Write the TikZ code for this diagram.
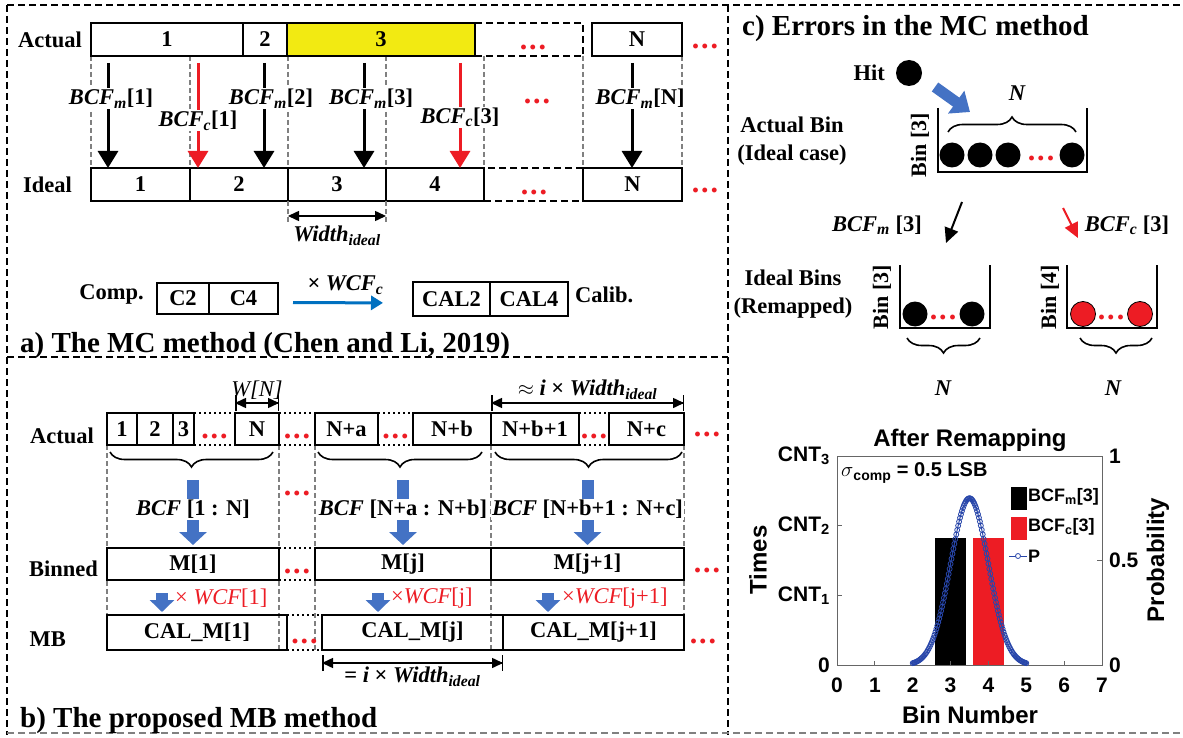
\documentclass[tikz,border=0pt]{standalone}
\usepackage{fontspec}
\setmainfont{Liberation Serif}
\setsansfont{Liberation Sans}
\usepackage{xcolor}
\usepackage{tikz}
\usetikzlibrary{arrows.meta, positioning, calc, decorations.pathreplacing, plotmarks}

\definecolor{binyellow}{RGB}{242,234,18}
\definecolor{dotred}{RGB}{237,28,36}
\definecolor{flowblue}{RGB}{0,112,192}
\definecolor{blockblue}{RGB}{68,114,196}
\definecolor{curveblue}{RGB}{40,70,170}
\definecolor{gridgray}{RGB}{128,128,128}

\newcommand{\rdots}{\textcolor{dotred}{\fontsize{30}{30}\selectfont.\kern2pt.\kern2pt.}}
\newcommand{\bcfsub}[1]{{\itshape BCF}\textsubscript{\itshape #1}}
\newcommand{\wideal}{{\itshape Width}\textsubscript{\itshape ideal}}

\begin{document}
\begin{tikzpicture}[
    x=1pt, y=-1pt,
    font=\fontsize{22.5}{26}\selectfont\bfseries,
    inner sep=1pt,
    cell/.style={draw, line width=1.6pt, inner sep=0pt, outer sep=0pt, anchor=north west, minimum height=33pt},
    gapbox/.style={cell, dash pattern=on 7pt off 4pt},
    grid/.style={draw=gridgray, line width=1.3pt, dash pattern=on 5pt off 3pt},
    frame/.style={line width=1.6pt, dash pattern=on 7pt off 4pt},
    dotline/.style={line width=1.6pt, dash pattern=on 2pt off 3pt},
    lbl/.style={fill=white, inner sep=1pt},
    title/.style={anchor=base west, font=\fontsize{29}{32}\selectfont\bfseries},
    bcfarrow/.style={line width=3pt, -{Triangle[width=20pt, length=17pt]}},
    dim/.style={line width=1.5pt, {Triangle[width=10pt, length=11pt]}-{Triangle[width=10pt, length=11pt]}},
    bars/.style={line width=1.5pt, {Bar[width=16pt]}-{Bar[width=16pt]}},
    flow/.style={draw=flowblue, line width=3pt, -{Triangle[width=14pt, length=12pt]}},
    bigblue/.style={draw=blockblue, line width=12pt, -{Triangle[width=27pt, length=13pt]}},
    smallblue/.style={draw=blockblue, line width=12pt, -{Triangle[width=24pt, length=12pt]}},
    fatblue/.style={draw=blockblue, line width=11pt, -{Triangle[width=27pt, length=17pt]}},
    mapline/.style={line width=2pt, -{Triangle[width=14pt, length=15pt]}},
    bracedown/.style={decorate, decoration={brace, mirror, amplitude=15pt}, line width=1.6pt},
    braceup/.style={decorate, decoration={brace, amplitude=15pt}, line width=1.6pt},
    binline/.style={line width=2pt},
    ball/.style={circle, fill=black, inner sep=0pt, outer sep=0pt, minimum size=25pt},
    binlbl/.style={rotate=90, font=\fontsize{22}{26}\selectfont\bfseries},
    plotfont/.style={font=\fontsize{21}{24}\selectfont\sffamily\bfseries}
]
\path[use as bounding box, fill=white] (0,0) rectangle (1183,738);

% Frames
\draw[frame] (7,5) -- (1183,5);
\draw[frame] (7,5) -- (7,735);
\draw[frame] (728,5) -- (728,735);
\draw[frame] (7,357) -- (728,357);
\draw[frame, draw=gridgray] (7,733) -- (1183,733);

% a) MC method
\foreach \x in {91,190,288,386,484,583,682}
  \draw[grid] (\x,56) -- (\x,168);
\node[cell, minimum width=152pt] (act1) at (91,23) {1};
\node[cell, minimum width=44pt] (act2) at (243,23) {2};
\node[cell, minimum width=188pt, fill=binyellow] (act3) at (287,23) {3};
\node[gapbox, minimum width=108pt] (actgap) at (475,23) {};
\node[cell, minimum width=90pt] (actN) at (592,23) {N};
\node (actgapdots) at (533,47) {\rdots};
\node (actmore) at (705,46) {\rdots};
\node[left=8pt of act1] (actlbl) {Actual};

\node[cell, minimum width=99pt] (id1) at (91,168) {1};
\node[cell, minimum width=98pt] (id2) at (190,168) {2};
\node[cell, minimum width=98pt] (id3) at (288,168) {3};
\node[cell, minimum width=98pt] (id4) at (386,168) {4};
\node[gapbox, minimum width=99pt] (idgap) at (484,168) {};
\node[cell, minimum width=99pt] (idN) at (583,168) {N};
\node (idgapdots) at (534,192) {\rdots};
\node (idmore) at (705,190) {\rdots};
\node[left=18pt of id1] (idlbl) {Ideal};

\coordinate (m1) at (108,63);
\coordinate (c1) at (198,63);
\coordinate (m2) at (264,63);
\coordinate (m3) at (364,63);
\coordinate (c3) at (460,63);
\coordinate (mN) at (632,63);
\draw[bcfarrow] (m1) -- node[lbl, pos=0.34, xshift=3pt] {\bcfsub{m}[1]} (m1 |- id1.north);
\draw[bcfarrow, draw=dotred] (c1) -- node[lbl, pos=0.55] {\bcfsub{c}[1]} (c1 |- id2.north);
\draw[bcfarrow] (m2) -- node[lbl, pos=0.34, xshift=7pt] {\bcfsub{m}[2]} (m2 |- id2.north);
\draw[bcfarrow] (m3) -- node[lbl, pos=0.34, xshift=7pt] {\bcfsub{m}[3]} (m3 |- id3.north);
\draw[bcfarrow, draw=dotred] (c3) -- node[lbl, pos=0.52] {\bcfsub{c}[3]} (c3 |- id4.north);
\draw[bcfarrow] (mN) -- node[lbl, pos=0.34, xshift=8pt] {\bcfsub{m}[N]} (mN |- idN.north);
\node (middots) at (537,101) {\rdots};

\draw[grid] (id3.south west) -- ++(0,21);
\draw[grid] (id3.south east) -- ++(0,21);
\draw[dim] ([yshift=-15pt]id3.south west) -- ([yshift=-15pt]id3.south east)
  node[midway, below=8pt] (wlbl) {\wideal};

\node[cell, minimum width=52pt, minimum height=31pt] (c2) at (157,283) {C2};
\node[cell, minimum width=69pt, minimum height=31pt] (c4) at (209,283) {C4};
\node[left=12pt of c2, yshift=4pt] (complbl) {Comp.};
\node[cell, minimum width=77pt, minimum height=34pt] (cal2) at (413,282) {CAL2};
\node[cell, minimum width=78pt, minimum height=34pt] (cal4) at (490,282) {CAL4};
\node[right=6pt of cal4, yshift=4pt] (caliblbl) {Calib.};
\draw[flow, shorten <=15pt, shorten >=30pt] ([yshift=-4pt]c4.east) --
  node[above=6pt] (wcflbl) {× {\itshape WCF}\textsubscript{\itshape c}} ([yshift=-4pt]cal2.west);

\node[title] (titlea) at (19,352) {a) The MC method (Chen and Li, 2019)};

% b) MB method
\foreach \x in {279,315,491,684}
  \draw[grid] (\x,445) -- (\x,650);
\draw[grid] (107,445) -- (107,615);

\node[cell, minimum width=30pt, minimum height=32pt] (b1) at (107,413) {1};
\node[cell, minimum width=36pt, minimum height=32pt] (b2) at (137,413) {2};
\node[cell, minimum width=21pt, minimum height=32pt] (b3) at (173,413) {3};
\node[cell, minimum width=44pt, minimum height=32pt] (bN) at (235,413) {N};
\node[cell, minimum width=63pt, minimum height=32pt] (bNa) at (315,413) {N+a};
\node[cell, minimum width=78pt, minimum height=32pt] (bNb) at (413,413) {N+b};
\node[cell, minimum width=88pt, minimum height=32pt] (bNb1) at (491,413) {N+b+1};
\node[cell, minimum width=75pt, minimum height=32pt] (bNc) at (609,413) {N+c};
\node (bmore) at (707,434) {\rdots};
\node[left=12pt of b1, yshift=-7pt] (bactlbl) {Actual};

\node[cell, minimum width=172pt, minimum height=32pt] (mb1) at (107,548) {M[1]};
\node[cell, minimum width=176pt, minimum height=32pt] (mbj) at (315,548) {M[j]};
\node[cell, minimum width=193pt, minimum height=32pt] (mbj1) at (491,548) {M[j+1]};
\node (mbmore) at (707,570) {\rdots};
\node[left=8pt of mb1, yshift=-5pt] (binlbl) {Binned};

\node[cell, minimum width=180pt, minimum height=35pt] (cal1) at (107,615) {CAL\_M[1]};
\node[cell, minimum width=181pt, minimum height=35pt] (calj) at (322,615) {CAL\_M[j]};
\node[cell, minimum width=181pt, minimum height=35pt] (calj1) at (503,615) {CAL\_M[j+1]};
\node (calmore) at (703,641) {\rdots};
\node[left=40pt of cal1, yshift=-7pt] (mblbl) {MB};

\foreach \l/\r in {b3/bN, bN/bNa, bNa/bNb, bNb1/bNc, mb1/mbj, cal1/calj} {
  \draw[dotline] (\l.north east) -- (\r.north west);
  \draw[dotline] (\l.south east) -- (\r.south west);
  \node[above=5pt] at ($(\l.south east)!0.5!(\r.south west)$) {\rdots};
}

\draw[bracedown] ([xshift=3pt, yshift=-7pt]b1.south west) -- ([xshift=-6pt, yshift=-7pt]bN.south east);
\draw[bracedown] ([xshift=3pt, yshift=-7pt]bNa.south west) -- ([xshift=-9pt, yshift=-7pt]bNb.south east);
\draw[bracedown] ([xshift=4pt, yshift=-7pt]bNb1.south west) -- ([xshift=-2pt, yshift=-7pt]bNc.south east);

\draw[bigblue] ([yshift=68pt]mb1.north) -- node[lbl, pos=0.45] {{\itshape BCF} [1 : N]} ([yshift=3pt]mb1.north);
\draw[bigblue] ([yshift=68pt]mbj.north) -- node[lbl, pos=0.45] {{\itshape BCF} [N+a : N+b]} ([yshift=3pt]mbj.north);
\draw[bigblue] ([yshift=68pt]mbj1.north) -- node[lbl, pos=0.45] {{\itshape BCF} [N+b+1 : N+c]} ([yshift=3pt]mbj1.north);
\node (bcfdots) at (297,493) {\rdots};

\coordinate (wa) at (162,593);
\coordinate (wb) at (378,593);
\coordinate (wc) at (548,593);
\draw[smallblue, shorten >=3pt] (wa) -- (wa |- cal1.north);
\draw[smallblue, shorten >=3pt] (wb) -- (wb |- calj.north);
\draw[smallblue, shorten >=3pt] (wc) -- (wc |- calj1.north);
\node[anchor=west, text=dotred, font=\fontsize{22.5}{26}\selectfont] (wcf1) at (174,598) {× {\itshape WCF}[1]};
\node[anchor=west, text=dotred, font=\fontsize{22.5}{26}\selectfont] (wcfj) at (390,598) {×{\itshape WCF}[j]};
\node[anchor=west, text=dotred, font=\fontsize{22.5}{26}\selectfont] (wcfj1) at (561,598) {×{\itshape WCF}[j+1]};

\draw[dim] ([yshift=10pt]bN.north west) -- ([yshift=10pt]bN.north east)
  node[midway, above=2pt, font=\fontsize{22.5}{26}\selectfont\itshape] (wnlbl) {W[N]};
\draw[bars] ([yshift=10pt]bN.north west) -- ([yshift=10pt]bN.north east);
\draw[dim] ([yshift=10pt]bNb1.north west) -- ([yshift=10pt]bNc.north east)
  node[midway, above=2pt] (approxlbl) {$\approx$ {\itshape i} × \wideal};
\draw[bars] ([yshift=10pt]bNb1.north west) -- ([yshift=10pt]bNc.north east);
\draw[dim] ([yshift=-13pt]calj.south west) -- ([yshift=-13pt]calj.south east)
  node[midway, below=2pt] (eqlbl) {= {\itshape i} × \wideal};
\draw[bars] ([yshift=-13pt]calj.south west) -- ([yshift=-13pt]calj.south east);

\node[title] (titleb) at (19,727) {b) The proposed MB method};

% c) Errors in the MC method
\node[title] (titlec) at (741,36) {c) Errors in the MC method};
\node[ball, minimum size=26pt] (hitball) at (909,73) {};
\node[left=10pt of hitball] (hitlbl) {Hit};
\coordinate (hs) at (935,87);
\coordinate (he) at (970,112);
\draw[fatblue] (hs) -- (he);

\node[align=center, font=\fontsize{22.5}{28}\selectfont\bfseries] (actbin) at (792,141) {Actual Bin\\(Ideal case)};
\draw[binline] (938,108) -- (938,172) -- (1087,172) -- (1087,108);
\node[binlbl] (bin3a) at (920,145) {Bin [3]};
\node[ball] (ab1) at (952,155) {};
\node[ball] (ab2) at (980,155) {};
\node[ball] (ab3) at (1008,155) {};
\node[ball] (ab4) at (1072,155) {};
\node (abdots) at (1041,158) {\rdots};
\draw[braceup] (948,132) -- (1076,132);
\node (abN) at (1017,93) {\itshape N};

\coordinate (ms) at (962,202);
\coordinate (me) at (946,243);
\coordinate (cs) at (1063,208);
\coordinate (ce) at (1078,238);
\draw[mapline] (ms) -- (me);
\draw[mapline, draw=dotred] (cs) -- (ce);
\node (bcfmlbl) at (877,225) {\bcfsub{m}~[3]};
\node (bcfclbl) at (1127,225) {\bcfsub{c}~[3]};

\node[align=center, font=\fontsize{22.5}{28}\selectfont\bfseries] (idbins) at (793,294) {Ideal Bins\\(Remapped)};
\draw[binline] (900,265) -- (900,328) -- (990,328) -- (990,265);
\node[binlbl] (bin3b) at (882,297) {Bin [3]};
\node[ball] (lb1) at (915,314) {};
\node[ball] (lb2) at (972,314) {};
\node (lbdots) at (943,317) {\rdots};
\draw[bracedown] (907,338) -- (980,338);
\node (lbN) at (943,388) {\itshape N};

\draw[binline] (1067,265) -- (1067,328) -- (1157,328) -- (1157,265);
\node[binlbl] (bin4) at (1050,297) {Bin [4]};
\node[ball, fill=dotred, draw=black, line width=0.8pt] (rb1) at (1083,314) {};
\node[ball, fill=dotred, draw=black, line width=0.8pt] (rb2) at (1140,314) {};
\node (rbdots) at (1111,317) {\rdots};
\draw[bracedown] (1080,338) -- (1152,338);
\node (rbN) at (1113,388) {\itshape N};

% plot
\begin{scope}[shift={(837,665)}, x=37.857pt, y=69.67pt]
  \fill[black] (2.6,0) rectangle (3.4,1.82);
  \fill[dotred] (3.6,0) rectangle (4.4,1.82);
  \draw[black!60, line width=0.8pt] (0,0) rectangle (7,3);
  \foreach \i in {0,...,7} {
    \draw[black!60, line width=0.8pt] (\i,0) -- (\i,0.06);
    \node[plotfont, below=12pt] at (\i,0) {\i};
  }
  \foreach \j in {1,2} {
    \draw[black!60, line width=0.8pt] (0,\j) -- (0.12,\j);
    \node[plotfont, left=6pt] at (0,\j) {CNT\textsubscript{\j}};
  }
  \node[plotfont, left=6pt] at (0,3) {CNT\textsubscript{3}};
  \node[plotfont, left=6pt] at (0,0) {0};
  \draw[black!60, line width=0.8pt] (7,1.5) -- (6.88,1.5);
  \node[plotfont, right=6pt] at (7,0) {0};
  \node[plotfont, right=6pt] at (7,1.5) {0.5};
  \node[plotfont, right=6pt] at (7,3) {1};
  \draw[curveblue, line width=1pt, mark=o, mark size=2.5pt, mark options={fill=white, line width=0.8pt}]
    plot[domain=2:5, samples=121] (\x, {2.3937*exp(-2*(\x-3.5)^2)});
\end{scope}
\node[plotfont, font=\fontsize{24}{28}\selectfont\sffamily\bfseries] (plottitle) at (970,440) {After Remapping};
\node[plotfont, font=\fontsize{24}{28}\selectfont\sffamily\bfseries] (xlbl) at (970,715) {Bin Number};
\node[plotfont, font=\fontsize{24}{28}\selectfont\sffamily\bfseries, rotate=90] (ylbl) at (758,560) {Times};
\node[plotfont, font=\fontsize{24}{28}\selectfont\sffamily\bfseries, rotate=90] (y2lbl) at (1158,560) {Probability};
\node[plotfont, font=\fontsize{20}{24}\selectfont\sffamily\bfseries, anchor=west] (sigma) at (840,473) {$\sigma$\textsubscript{comp} = 0.5 LSB};

\fill[black] (1011,487) rectangle (1027,510);
\fill[dotred] (1011,517) rectangle (1027,540);
\draw[curveblue, line width=1pt] (1009,556) -- (1027,556);
\node[circle, draw=curveblue, fill=white, line width=0.8pt, minimum size=5pt, inner sep=0pt] (legmark) at (1018,556) {};
\node[plotfont, font=\fontsize{18}{22}\selectfont\sffamily\bfseries, anchor=west] (legm) at (1027,497) {BCF\textsubscript{m}[3]};
\node[plotfont, font=\fontsize{18}{22}\selectfont\sffamily\bfseries, anchor=west] (legc) at (1027,527) {BCF\textsubscript{c}[3]};
\node[plotfont, font=\fontsize{18}{22}\selectfont\sffamily\bfseries, anchor=west] (legp) at (1027,556) {P};

\end{tikzpicture}
\end{document}
